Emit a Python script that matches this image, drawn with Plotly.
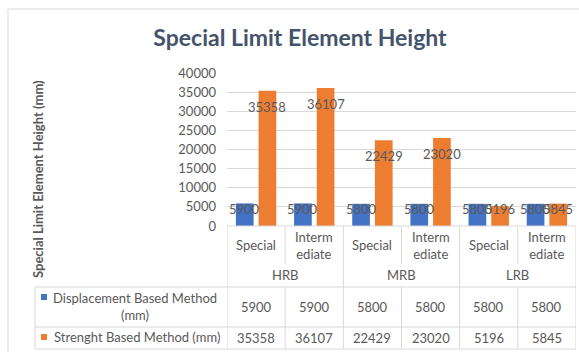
import plotly.graph_objects as go

# ---- data ----
groups = ["HRB", "MRB", "LRB"]
types = ["Special", "Intermediate"]
type_labels = ["Special", "Interm<br>ediate"]
categories = [g + " " + t for g in groups for t in types]
disp = [5900, 5900, 5800, 5800, 5800, 5800]
stren = [35358, 36107, 22429, 23020, 5196, 5845]
series_names = ["Displacement Based Method (mm)", "Strenght Based Method (mm)"]
legend_labels = ["Displacement Based Method<br>(mm)", "Strenght Based Method (mm)"]
colors = ["#4472C4", "#ED7D31"]
title = "Special Limit Element Height"
ytitle = "Special Limit Element Height (mm)"
yticks = [0, 5000, 10000, 15000, 20000, 25000, 30000, 35000, 40000]

# ---- geometry ----
W, H = 579, 352
L, R, T, B = 227, 3, 73, 126
PW, PH = W - L - R, H - T - B
YMAX = 40000
FONT = "Lato"
GRAY = "#595959"
LINE = "#D9D9D9"
BARGAP, GROUPGAP = 0.22, 0.22


def px(x):
    return (x - L) / PW


def py(y):
    return (H - B - y) / PH


fig = go.Figure()
for name, vals, c in zip(series_names, [disp, stren], colors):
    fig.add_trace(go.Bar(x=categories, y=vals, name=name, marker=dict(color=c, line=dict(width=0)),
                         showlegend=False, hoverinfo="x+y"))

annotations = []
shapes = []

# data labels
catw = PW / len(categories)
off = catw * (1 - BARGAP) / 4
for si, vals in enumerate([disp, stren]):
    shift = -off if si == 0 else off
    for c, v in zip(categories, vals):
        top = (H - B) - v / YMAX * PH
        center = min(top + 16, 209)
        annotations.append(dict(x=c, y=v, xref="x", yref="y", xshift=shift, yshift=-(center - top),
                                text=str(v), showarrow=False, yanchor="middle", xanchor="center",
                                font=dict(family=FONT, size=13, color=GRAY)))

# table: category labels
for c, lab in zip(categories, type_labels * len(groups)):
    annotations.append(dict(x=c, xref="x", y=py(245), yref="paper", text=lab, showarrow=False,
                            yanchor="middle", font=dict(family=FONT, size=13, color=GRAY)))
for gi, g in enumerate(groups):
    annotations.append(dict(x=2 * gi + 0.5, xref="x", y=py(275), yref="paper", text=g, showarrow=False,
                            yanchor="middle", font=dict(family=FONT, size=13, color=GRAY)))
for row_y, vals in zip([307, 338], [disp, stren]):
    for c, v in zip(categories, vals):
        annotations.append(dict(x=c, xref="x", y=py(row_y), yref="paper", text=str(v), showarrow=False,
                                yanchor="middle", font=dict(family=FONT, size=13, color=GRAY)))

# legend cells
for (ty, sqy), lab, col, cx in zip([(306, 297), (337, 337)], legend_labels, colors, [135, 137]):
    annotations.append(dict(x=px(cx), xref="paper", y=py(ty), yref="paper", text=lab, showarrow=False,
                            yanchor="middle", xanchor="center", align="center",
                            font=dict(family=FONT, size=13, color=GRAY)))
    shapes.append(dict(type="rect", xref="paper", yref="paper", x0=px(41), x1=px(47),
                       y0=py(sqy - 3), y1=py(sqy + 3), fillcolor=col, line=dict(width=0)))

# table lines
def hline(y, x0, x1):
    shapes.append(dict(type="line", xref="paper", yref="paper", x0=px(x0), x1=px(x1), y0=py(y), y1=py(y),
                       line=dict(color=LINE, width=1)))


hline(226, 227, 576)
for y in [287, 327, 349]:
    hline(y, 35, 576)
shapes.append(dict(type="line", xref="paper", yref="paper", x0=px(35), x1=px(35), y0=py(287), y1=py(349),
                   line=dict(color=LINE, width=1)))
n = len(categories)
for i in range(n + 1):
    xb = i - 0.5
    if i % 2 == 0:
        shapes.append(dict(type="line", xref="x", yref="paper", x0=xb, x1=xb, y0=py(226), y1=py(349),
                           line=dict(color=LINE, width=1)))
    else:
        for (a, b) in [(226, 264), (287, 349)]:
            shapes.append(dict(type="line", xref="x", yref="paper", x0=xb, x1=xb, y0=py(a), y1=py(b),
                               line=dict(color=LINE, width=1)))

# chart border
shapes.append(dict(type="rect", xref="paper", yref="paper", x0=px(8), x1=px(600), y0=py(9), y1=py(380),
                   line=dict(color=LINE, width=1), fillcolor="rgba(0,0,0,0)", layer="below"))

# y title
annotations.append(dict(x=px(38), xref="paper", y=py(179), yref="paper", text="<b>" + ytitle + "</b>",
                        textangle=-90, showarrow=False, xanchor="center", yanchor="middle",
                        font=dict(family=FONT, size=13, color=GRAY)))

fig.update_layout(
    width=W, height=H,
    margin=dict(l=L, r=R, t=T, b=B, pad=0),
    paper_bgcolor="white", plot_bgcolor="white",
    barmode="group", bargap=BARGAP, bargroupgap=GROUPGAP,
    title=dict(text="<b>" + title + "</b>", x=300 / W, xanchor="center", y=1 - 38 / H, yanchor="middle",
               font=dict(family=FONT, size=23, color="#44546A")),
    xaxis=dict(type="category", categoryarray=categories, showticklabels=False, showgrid=False,
               zeroline=False, showline=False, range=[-0.5, n - 0.5], fixedrange=True),
    yaxis=dict(range=[0, YMAX], tickvals=yticks, tickformat="d", showgrid=True, gridcolor=LINE, gridwidth=1,
               zeroline=False, showline=False, ticks="", ticklabelstandoff=10,
               tickfont=dict(family=FONT, size=13, color=GRAY), fixedrange=True),
    annotations=annotations, shapes=shapes,
    showlegend=False,
)

fig.write_html("out.html")
